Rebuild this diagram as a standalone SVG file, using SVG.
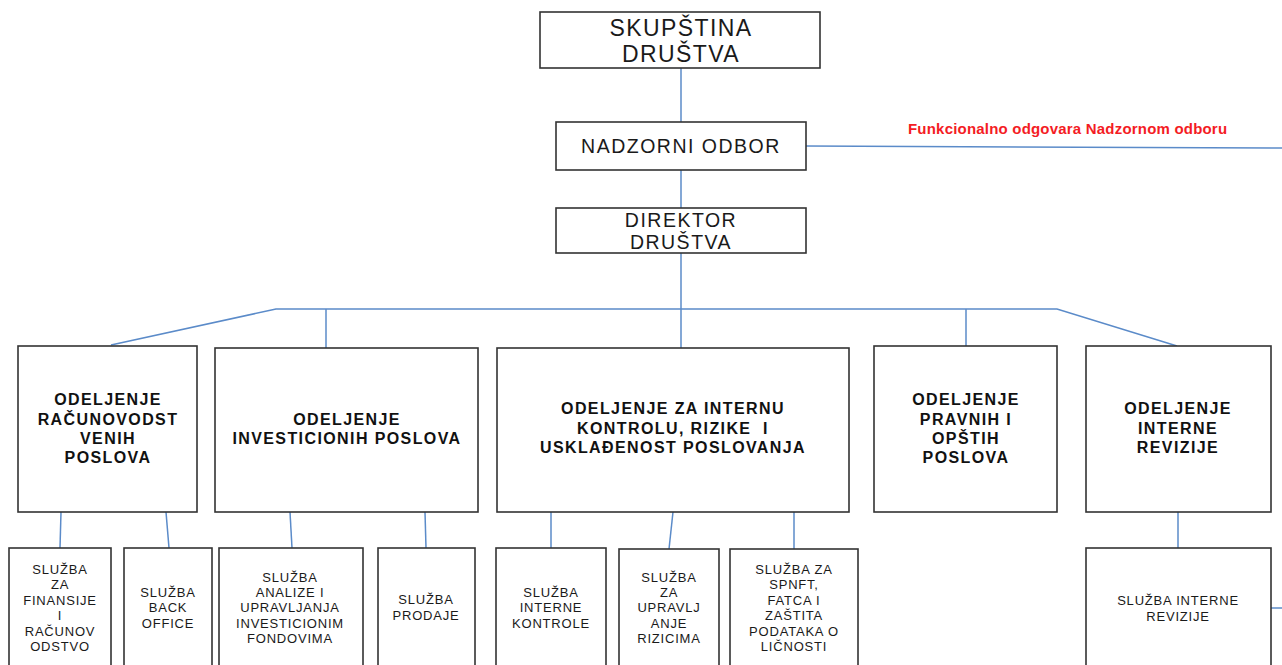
<svg xmlns="http://www.w3.org/2000/svg" width="1282" height="665" viewBox="0 0 1282 665">
<style>
.box{fill:#fff;stroke:#333;stroke-width:1.6}
.ln{stroke:#5b8bc9;stroke-width:1.5;fill:none}
.top{font-family:"Liberation Sans",Arial,sans-serif;fill:#1a1a1a;text-anchor:middle}
.dep{font-family:"Liberation Sans",Arial,sans-serif;font-weight:bold;font-size:16px;letter-spacing:1.4px;fill:#111;text-anchor:middle}
.sl{font-family:"Liberation Sans",Arial,sans-serif;font-size:13px;letter-spacing:0.8px;fill:#1a1a1a;text-anchor:middle}
.red{font-family:"Liberation Sans",Arial,sans-serif;font-weight:bold;font-size:15px;letter-spacing:0.2px;fill:#f41c24}
</style>
<rect width="1282" height="665" fill="#fff"/>
<g id="connectors">
<line class="ln" x1="681" y1="68" x2="681" y2="122"/>
<line class="ln" x1="681" y1="170" x2="681" y2="208"/>
<line class="ln" x1="681" y1="253" x2="681" y2="348"/>
<line class="ln" x1="806" y1="146" x2="1282" y2="148"/>
<polyline class="ln" points="111,345 276,309 1057,309 1177,346"/>
<line class="ln" x1="326" y1="309" x2="326" y2="348"/>
<line class="ln" x1="966" y1="309" x2="966" y2="346"/>
<line class="ln" x1="61" y1="512" x2="60" y2="548"/>
<line class="ln" x1="166" y1="512" x2="169" y2="548"/>
<line class="ln" x1="290" y1="512" x2="292" y2="548"/>
<line class="ln" x1="425" y1="512" x2="426" y2="548"/>
<line class="ln" x1="551" y1="512" x2="551" y2="548"/>
<line class="ln" x1="673" y1="512" x2="669" y2="549"/>
<line class="ln" x1="794" y1="512" x2="794" y2="549"/>
<line class="ln" x1="1178" y1="512" x2="1178" y2="548"/>
<line class="ln" x1="1271" y1="608" x2="1282" y2="608"/>
</g>
<text class="red" x="908" y="134">Funkcionalno odgovara Nadzornom odboru</text>
<g id="skupstina">
<rect class="box" x="540" y="12" width="280" height="56"/>
<text class="top" font-size="23" letter-spacing="1.4" x="681" y="36">SKUPŠTINA</text>
<text class="top" font-size="23" letter-spacing="1.4" x="681" y="62">DRUŠTVA</text>
</g>
<g id="nadzorni">
<rect class="box" x="556" y="122" width="250" height="48"/>
<text class="top" font-size="19.5" letter-spacing="1.5" x="681" y="153">NADZORNI ODBOR</text>
</g>
<g id="direktor">
<rect class="box" x="556" y="208" width="250" height="45"/>
<text class="top" font-size="19.5" letter-spacing="1.5" x="681" y="227">DIREKTOR</text>
<text class="top" font-size="19.5" letter-spacing="1.5" x="681" y="249">DRUŠTVA</text>
</g>
<g id="dep1">
<rect class="box" x="18" y="346" width="179" height="166"/>
<text class="dep" x="108" y="405">ODELJENJE</text>
<text class="dep" x="108" y="425">RAČUNOVODST</text>
<text class="dep" x="108" y="444">VENIH</text>
<text class="dep" x="108" y="463">POSLOVA</text>
</g>
<g id="dep2">
<rect class="box" x="215" y="348" width="263" height="164"/>
<text class="dep" x="347" y="425">ODELJENJE</text>
<text class="dep" x="347" y="444">INVESTICIONIH POSLOVA</text>
</g>
<g id="dep3">
<rect class="box" x="497" y="348" width="352" height="164"/>
<text class="dep" x="673" y="414">ODELJENJE ZA INTERNU</text>
<text class="dep" x="673" y="434">KONTROLU, RIZIKE &#160;I</text>
<text class="dep" x="673" y="453">USKLAĐENOST POSLOVANJA</text>
</g>
<g id="dep4">
<rect class="box" x="874" y="346" width="183" height="166"/>
<text class="dep" x="966" y="405">ODELJENJE</text>
<text class="dep" x="966" y="425">PRAVNIH I</text>
<text class="dep" x="966" y="444">OPŠTIH</text>
<text class="dep" x="966" y="463">POSLOVA</text>
</g>
<g id="dep5">
<rect class="box" x="1086" y="346" width="185" height="166"/>
<text class="dep" x="1178" y="414">ODELJENJE</text>
<text class="dep" x="1178" y="434">INTERNE</text>
<text class="dep" x="1178" y="453">REVIZIJE</text>
</g>
<g id="sl1">
<rect class="box" x="9" y="548" width="102" height="130"/>
<text class="sl" x="60" y="574">SLUŽBA</text>
<text class="sl" x="60" y="589">ZA</text>
<text class="sl" x="60" y="605">FINANSIJE</text>
<text class="sl" x="60" y="620">I</text>
<text class="sl" x="60" y="636">RAČUNOV</text>
<text class="sl" x="60" y="651">ODSTVO</text>
</g>
<g id="sl2">
<rect class="box" x="124" y="548" width="88" height="130"/>
<text class="sl" x="168" y="597">SLUŽBA</text>
<text class="sl" x="168" y="612">BACK</text>
<text class="sl" x="168" y="628">OFFICE</text>
</g>
<g id="sl3">
<rect class="box" x="219" y="548" width="144" height="130"/>
<text class="sl" x="290" y="582">SLUŽBA</text>
<text class="sl" x="290" y="597">ANALIZE I</text>
<text class="sl" x="290" y="612">UPRAVLJANJA</text>
<text class="sl" x="290" y="628">INVESTICIONIM</text>
<text class="sl" x="290" y="643">FONDOVIMA</text>
</g>
<g id="sl4">
<rect class="box" x="378" y="548" width="97" height="130"/>
<text class="sl" x="426" y="604">SLUŽBA</text>
<text class="sl" x="426" y="620">PRODAJE</text>
</g>
<g id="sl5">
<rect class="box" x="496" y="548" width="110" height="130"/>
<text class="sl" x="551" y="597">SLUŽBA</text>
<text class="sl" x="551" y="612">INTERNE</text>
<text class="sl" x="551" y="628">KONTROLE</text>
</g>
<g id="sl6">
<rect class="box" x="619" y="549" width="100" height="130"/>
<text class="sl" x="669" y="582">SLUŽBA</text>
<text class="sl" x="669" y="597">ZA</text>
<text class="sl" x="669" y="612">UPRAVLJ</text>
<text class="sl" x="669" y="628">ANJE</text>
<text class="sl" x="669" y="643">RIZICIMA</text>
</g>
<g id="sl7">
<rect class="box" x="730" y="549" width="128" height="130"/>
<text class="sl" x="794" y="574">SLUŽBA ZA</text>
<text class="sl" x="794" y="589">SPNFT,</text>
<text class="sl" x="794" y="605">FATCA I</text>
<text class="sl" x="794" y="620">ZAŠTITA</text>
<text class="sl" x="794" y="636">PODATAKA O</text>
<text class="sl" x="794" y="651">LIČNOSTI</text>
</g>
<g id="sl8">
<rect class="box" x="1086" y="548" width="185" height="130"/>
<text class="sl" x="1178" y="605">SLUŽBA INTERNE</text>
<text class="sl" x="1178" y="621">REVIZIJE</text>
</g>
</svg>
